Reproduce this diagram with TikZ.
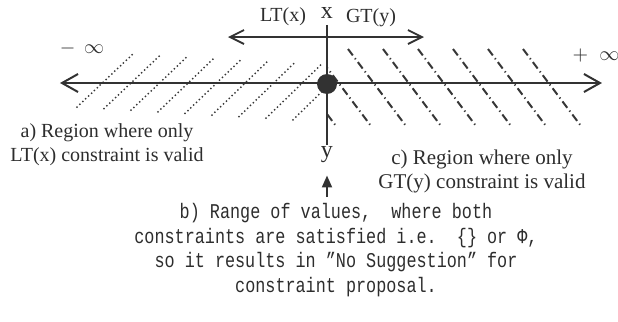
\documentclass[tikz,border=0pt]{standalone}
\usepackage{fontspec}
\setmainfont{Liberation Serif}
\newfontfamily\codefont[FakeStretch=0.8]{Liberation Mono}
\usetikzlibrary{arrows.meta,positioning}
\definecolor{axisgray}{RGB}{50,50,50}
\definecolor{hatchgray}{RGB}{55,55,55}
\definecolor{textgray}{RGB}{45,45,45}
\tikzset{
  mainaxis/.style={
    draw=axisgray,
    line width=1pt,
    {Straight Barb[length=8pt,width=9pt]}-{Straight Barb[length=8pt,width=9pt]}
  },
  ltgtarr/.style={
    draw=axisgray,
    line width=0.9pt,
    {Straight Barb[length=7pt,width=7pt]}-{Straight Barb[length=7pt,width=7pt]}
  },
  uparr/.style={
    draw=axisgray,
    line width=1pt,
    -{Triangle[length=6pt,width=5pt]}
  },
  ltdots/.style={
    draw=hatchgray,
    line width=1pt,
    line cap=round,
    dash pattern=on 0pt off 2pt
  },
  gtdashes/.style={
    draw=hatchgray,
    line width=1pt,
    dash pattern=on 4pt off 1.8pt on 0.6pt off 1.8pt
  },
  bigdot/.style={
    circle,
    fill=axisgray,
    minimum size=10pt,
    inner sep=0pt
  },
  tag/.style={
    text=textgray,
    inner sep=1pt,
    font=\fontsize{10}{12}\selectfont
  },
  axistag/.style={
    text=textgray,
    inner sep=1pt,
    font=\fontsize{12}{14}\selectfont
  },
  note/.style={
    text=textgray,
    align=center,
    inner sep=1pt,
    font=\fontsize{10}{12}\selectfont
  },
  codenote/.style={
    text=textgray,
    align=center,
    inner sep=1pt,
    font=\codefont\fontsize{10.5}{12.25}\selectfont
  }
}

\begin{document}
\begin{tikzpicture}[x=0.5pt, y=-0.5pt]
  \useasboundingbox (0,0) rectangle (618,322);

  % hatching: LT(x) side dotted, GT(y) side dash-dot
  \begin{scope}
    \clip (0,0) rectangle (327,322);
    \foreach \i in {0,...,8}
      \draw[ltdots] ({77+27*\i},{107+1.6*\i}) -- ({134+27*\i},{53+1.4*\i});
  \end{scope}
  \begin{scope}
    \clip (327,0) rectangle (618,322);
    \foreach \i in {0,...,7}
      \draw[gtdashes] ({278+35*\i},49) -- ({336+35*\i},126);
  \end{scope}

  % number line
  \coordinate (minf) at (60,83);
  \coordinate (pinf) at (602,83);
  \draw[mainaxis] (minf) -- (pinf);
  \node[tag] (minflab) at (82,48) {$-\;\,\infty$};
  \node[tag] (pinflab) at (596,55) {$+\;\;\infty$};

  % the two constraints
  \node[axistag] (xlab) at (327,13) {x};
  \node[axistag] (ylab) at (327,155) {y};
  \draw[axisgray, line width=1pt, shorten <=2pt] (xlab.south) -- (ylab.north);
  \coordinate (ltend) at (228,37);
  \coordinate (gtend) at (424,37);
  \draw[ltgtarr] (ltend) -- (gtend);
  \node[tag] (ltlab) at (283,17) {LT(x)};
  \node[tag] (gtlab) at (371,18) {GT(y)};
  \node[bigdot] (origin) at (327,84) {};

  % region notes
  \node[note] (anote) at (107,145) {a) Region where only\\LT(x) constraint is valid};
  \node[note, font=\fontsize{10.5}{12}\selectfont] (cnote) at (482,171)
    {c) Region where only\\GT(y) constraint is valid};
  \node[codenote] (bnote) at (336,250) {b) Range of values,\ \ where both\\
    constraints are satisfied i.e.\ \ \{\} or Φ,\\
    so it results in ”No Suggestion” for\\
    constraint proposal.};
  \draw[uparr, shorten >=5pt, shorten <=2pt] (ylab.south |- bnote.north) -- (ylab.south);
\end{tikzpicture}
\end{document}
